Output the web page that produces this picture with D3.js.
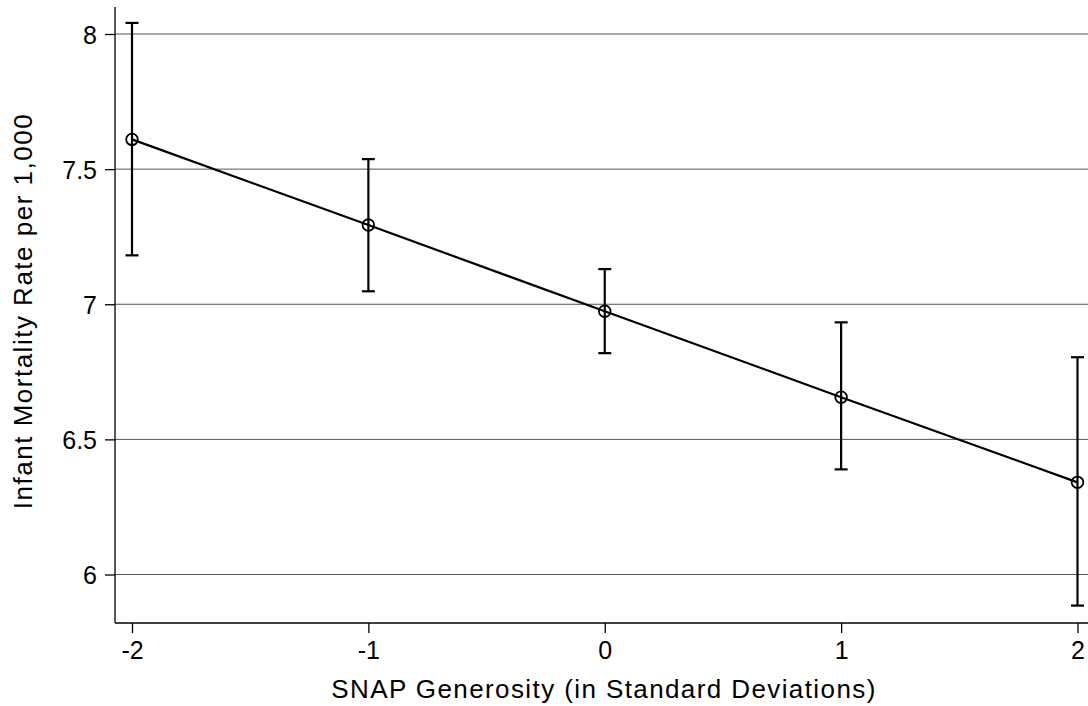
<!DOCTYPE html>
<html>
<head>
<meta charset="utf-8">
<script src="https://cdn.jsdelivr.net/npm/d3@7"></script>
<style>
  body { margin: 0; background: #fff; }
  svg text { font-family: "Liberation Sans", Arial, Helvetica, sans-serif; fill: #000; }
</style>
</head>
<body>
<div id="chart"></div>
<script>
// SNAP generosity vs infant mortality (point estimates with 95% CIs)
const snapSd = [-2, -1, 0, 1, 2];
const imr = [7.61, 7.293, 6.974, 6.656, 6.341];
const ciLow = [7.181, 7.048, 6.819, 6.389, 5.885];
const ciHigh = [8.041, 7.537, 7.130, 6.933, 6.804];
const yTicks = [6, 6.5, 7, 7.5, 8];
const xTicks = [-2, -1, 0, 1, 2];

const width = 1088, height = 706;
const plotLeft = 115, plotRight = 1088, plotTop = 7, plotBottom = 623;

const svg = d3.select('#chart').append('svg')
  .attr('width', width)
  .attr('height', height);

const x = d3.scaleLinear().domain([-2, 2]).range([132, 1077.5]);
const y = d3.scaleLinear().domain([6, 8]).range([574.5, 34]);

// hyphen instead of unicode minus, like the original
const fmtNum = d => String(d).replace('\u2212', '-');

// horizontal gridlines
svg.append('g')
  .selectAll('line')
  .data(yTicks)
  .join('line')
  .attr('x1', plotLeft)
  .attr('x2', plotRight)
  .attr('y1', d => y(d))
  .attr('y2', d => y(d))
  .attr('stroke', '#555')
  .attr('stroke-width', 1);

// axes
const yAxis = d3.axisLeft(y).tickValues(yTicks).tickSize(10).tickSizeOuter(0).tickPadding(8)
  .tickFormat(fmtNum);
const yAxisG = svg.append('g')
  .attr('transform', `translate(${plotLeft},0)`)
  .call(yAxis);
yAxisG.select('.domain').remove();
svg.append('line')
  .attr('x1', plotLeft).attr('x2', plotLeft)
  .attr('y1', plotTop).attr('y2', plotBottom)
  .attr('stroke', '#000').attr('stroke-width', 1.3);

const xAxis = d3.axisBottom(x).tickValues(xTicks).tickSize(10).tickSizeOuter(0).tickPadding(8)
  .tickFormat(fmtNum);
const xAxisG = svg.append('g')
  .attr('transform', `translate(0,${plotBottom})`)
  .call(xAxis);
xAxisG.select('.domain').remove();
svg.append('line')
  .attr('x1', plotLeft).attr('x2', plotRight)
  .attr('y1', plotBottom).attr('y2', plotBottom)
  .attr('stroke', '#000').attr('stroke-width', 1.3);

svg.selectAll('.tick line').attr('stroke', '#000').attr('stroke-width', 1.3);
svg.selectAll('.tick text').style('font-size', '25px');
yAxisG.selectAll('.tick text').attr('dy', '0.36em');

// axis titles
svg.append('text')
  .attr('x', 604)
  .attr('y', 698)
  .attr('text-anchor', 'middle')
  .style('font-size', '26px')
  .style('letter-spacing', '1.4px')
  .text('SNAP Generosity (in Standard Deviations)');

svg.append('text')
  .attr('transform', `translate(32, 311) rotate(-90)`)
  .attr('text-anchor', 'middle')
  .style('font-size', '26px')
  .style('letter-spacing', '1.5px')
  .text('Infant Mortality Rate per 1,000');

const rows = snapSd.map((s, i) => ({ s, v: imr[i], lo: ciLow[i], hi: ciHigh[i] }));

// error bars
const eb = svg.append('g').attr('stroke', '#000').attr('stroke-width', 2.2);
eb.selectAll('line.bar')
  .data(rows)
  .join('line')
  .attr('class', 'bar')
  .attr('x1', d => x(d.s)).attr('x2', d => x(d.s))
  .attr('y1', d => y(d.lo)).attr('y2', d => y(d.hi));
const capW = 6.5;
eb.selectAll('line.capHi')
  .data(rows)
  .join('line')
  .attr('class', 'capHi')
  .attr('x1', d => x(d.s) - capW).attr('x2', d => x(d.s) + capW)
  .attr('y1', d => y(d.hi)).attr('y2', d => y(d.hi));
eb.selectAll('line.capLo')
  .data(rows)
  .join('line')
  .attr('class', 'capLo')
  .attr('x1', d => x(d.s) - capW).attr('x2', d => x(d.s) + capW)
  .attr('y1', d => y(d.lo)).attr('y2', d => y(d.lo));

// connecting line
svg.append('path')
  .datum(rows)
  .attr('fill', 'none')
  .attr('stroke', '#000')
  .attr('stroke-width', 2.2)
  .attr('d', d3.line().x(d => x(d.s)).y(d => y(d.v)));

// hollow markers
svg.append('g')
  .selectAll('circle')
  .data(rows)
  .join('circle')
  .attr('cx', d => x(d.s))
  .attr('cy', d => y(d.v))
  .attr('r', 5.8)
  .attr('fill', 'none')
  .attr('stroke', '#000')
  .attr('stroke-width', 1.8);
</script>
</body>
</html>
